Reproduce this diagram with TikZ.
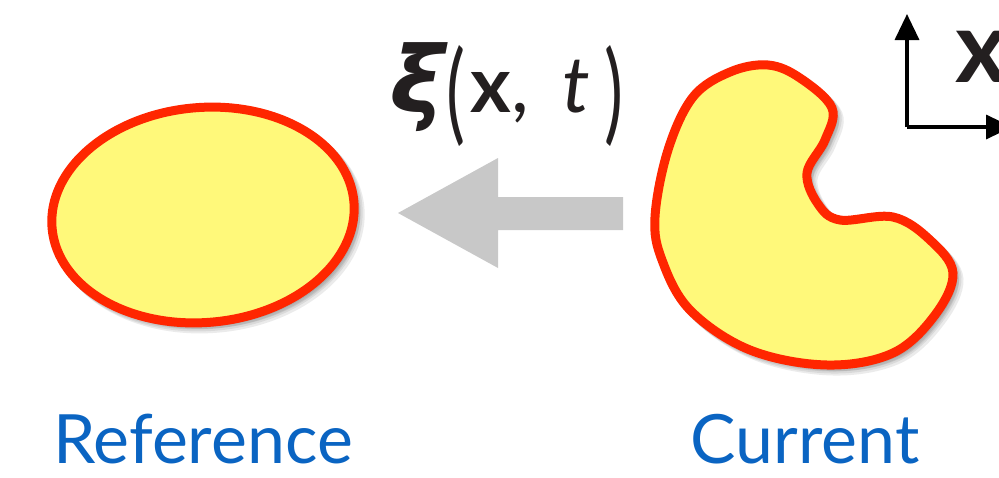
\documentclass[tikz,border=0pt]{standalone}
\usepackage{fontspec}
\usepackage{graphicx}
\setmainfont{Lato}
\newfontfamily\xifont{DejaVu Sans}
\usetikzlibrary{shapes.geometric,arrows.meta}
\definecolor{blobfill}{HTML}{FFF97A}
\definecolor{blobline}{HTML}{FF2600}
\definecolor{labelblue}{HTML}{0A64C2}
\definecolor{arrowgray}{HTML}{C8C8C8}
\definecolor{inkdark}{HTML}{231F20}
\newcommand{\bigparen}[1]{\raisebox{-18pt}{\resizebox{19pt}{85pt}{\fontsize{80}{80}\selectfont\mdseries\upshape #1}}}
\tikzset{
  blob/.style={fill=blobfill, draw=blobline, line width=9pt},
  blobshadow/.style={fill=black, draw=black, line width=9pt, opacity=0.08},
  caption/.style={text=labelblue, font=\fontsize{68}{68}\selectfont, inner sep=0pt, anchor=base},
  axis/.style={draw=black, line width=3.5pt, -{Triangle[length=26pt,width=24pt]}},
}
\begin{document}
\begin{tikzpicture}[x=1pt,y=-1pt]
\useasboundingbox (0,0) rectangle (999,477);
% shadows
\foreach \s in {2,4,6}{
  \node[ellipse, blobshadow, minimum width=303pt, minimum height=215pt, rotate=5, inner sep=0pt] at (203+\s,215+\s) {};
}
\node[ellipse, blob, minimum width=303pt, minimum height=215pt, rotate=5, inner sep=0pt] (ref) at (203,215) {};
\def\kidney{(768,65) (800,78) (832,108) (825,140) (807,173) (818,204) (840,220) (893,217) (930,240) (953,273) (935,315) (893,353) (827,365) (750,350) (690,310) (662,260) (655,217) (668,150) (693,97) (730,72)}
\foreach \s in {2,4,6}{
  \draw[blobshadow, xshift=\s pt, yshift=-\s pt] plot[smooth cycle, tension=0.6] coordinates {\kidney};
}
\draw[blob] plot[smooth cycle, tension=0.6] coordinates {\kidney};
% big gray arrow
\fill[arrowgray] (623,197) -- (498,197) -- (498,158) -- (398,213) -- (498,268) -- (498,230) -- (623,230) -- cycle;
% label
\node[inner sep=0pt, anchor=base west, text=inkdark] (xi) at (390,112) {\fontsize{78}{78}\selectfont{\xifont\fontsize{92}{92}\selectfont\bfseries\itshape ξ}\hspace{2pt}\bigparen{(}\hspace{5pt}\textbf{x},\hspace{34pt}\textit{t}\hspace{14pt}\bigparen{)}};
% captions
\node[caption] (reflabel) at (203,463) {Reference};
\node[caption] (curlabel) at (805,463) {Current};
% axes
\coordinate (o) at (907,127);
\coordinate (yt) at (907,14);
\coordinate (xt) at (1012,127);
\draw[axis] (o) -- (yt);
\draw[axis] (o) -- (xt);
\node[inner sep=0pt, anchor=base west, text=inkdark] (xlab) at (955,82) {\fontsize{100}{100}\selectfont\bfseries x};
\end{tikzpicture}
\end{document}
